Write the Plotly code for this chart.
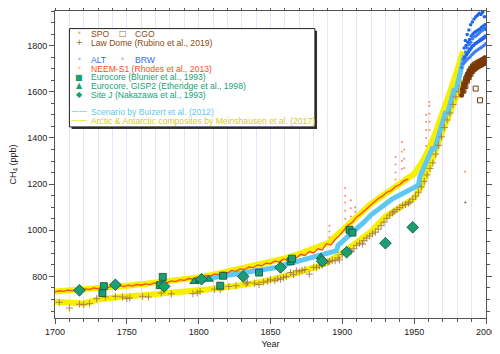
import plotly.graph_objects as go

# Meinshausen et al. (2017) composites
comp_years = [1700, 1710, 1720, 1730, 1740, 1750, 1760, 1770, 1780, 1790, 1800, 1810, 1820, 1830, 1840,
              1850, 1860, 1870, 1880, 1890, 1900, 1910, 1920, 1930, 1940, 1950, 1955, 1960, 1965, 1970,
              1975, 1980, 1984]
arctic_vals = [735, 739, 743, 748, 754, 760, 766, 772, 779, 787, 796, 808, 821, 835, 848,
               861, 878, 898, 922, 945, 1000, 1059, 1115, 1158, 1203, 1245, 1290, 1347, 1425, 1506,
               1600, 1693, 1775]
antarctic_vals = [690, 685, 683, 700, 710, 714, 718, 722, 727, 732, 740, 746, 753, 762, 772,
                  785, 800, 818, 838, 862, 901, 944, 994, 1059, 1102, 1139, 1190, 1261, 1345, 1434,
                  1515, 1592, 1650]

# Buizert et al. (2012) scenario
buizert_years = [1805, 1810, 1815, 1820, 1825, 1830, 1835, 1840, 1845, 1850, 1855, 1860, 1865, 1870, 1875,
                 1880, 1885, 1890, 1894, 1896, 1897, 1900, 1905, 1910, 1915, 1920, 1925, 1930, 1935, 1940,
                 1945, 1950, 1953, 1954, 1960, 1963, 1964, 1967, 1970, 1972, 1973, 1976, 1978, 1979, 1982,
                 1983, 1985]
buizert_vals = [790, 795, 800, 804, 808, 812, 816, 820, 826, 832, 840, 850, 858, 866, 875,
                884, 892, 900, 905, 912, 935, 951, 975, 1002, 1035, 1067, 1092, 1117, 1137, 1153,
                1168, 1182, 1195, 1232, 1318, 1360, 1345, 1410, 1477, 1515, 1500, 1570, 1615, 1600, 1680,
                1700, 1760]

# Law Dome (Rubino et al., 2019)
lawdome_years = [1703, 1710, 1717, 1720, 1724, 1729, 1735, 1742, 1747, 1750, 1752, 1761, 1765, 1774, 1781,
                 1796, 1799, 1801, 1811, 1815, 1821, 1826, 1833, 1834, 1839, 1842, 1845, 1848, 1850, 1853,
                 1855, 1857, 1859, 1861, 1864, 1866, 1868, 1870, 1872, 1874, 1877, 1880, 1882, 1884, 1886,
                 1888, 1890, 1891, 1893, 1895, 1897, 1898, 1900, 1903, 1905, 1906, 1908, 1910, 1912, 1914,
                 1915, 1917, 1919, 1921, 1923, 1925, 1927, 1929, 1931, 1933, 1935, 1936, 1938, 1940, 1942,
                 1944, 1946, 1947, 1949, 1951, 1953, 1955, 1957, 1959, 1961, 1963, 1965, 1967, 1969, 1971,
                 1973, 1975, 1977, 1979, 1981, 1983, 1985, 1987, 1989, 1991]
lawdome_vals = [688, 663, 680, 678, 682, 704, 711, 714, 711, 704, 707, 714, 711, 728, 725,
                725, 728, 735, 745, 742, 757, 760, 768, 775, 771, 765, 775, 780, 786, 782,
                790, 788, 795, 800, 817, 808, 825, 820, 826, 830, 810, 840, 838, 846, 850,
                856, 862, 865, 870, 868, 880, 872, 895, 905, 912, 908, 920, 935, 944, 940,
                955, 966, 975, 985, 992, 1005, 1020, 1035, 1052, 1066, 1075, 1082, 1090, 1098, 1108,
                1112, 1118, 1122, 1135, 1148, 1165, 1188, 1212, 1240, 1268, 1292, 1330, 1368, 1405, 1445,
                1478, 1508, 1545, 1578, 1600, 1625, 1645, 1665, 1688, 1700]

# NEEM-S1 (Rhodes et al., 2013)
neem_years = [1700, 1703, 1706, 1709, 1712, 1715, 1718, 1721, 1724, 1727, 1730, 1733, 1736, 1739, 1742,
              1745, 1748, 1751, 1754, 1757, 1760, 1763, 1766, 1769, 1772, 1775, 1778, 1781, 1784, 1787,
              1790, 1793, 1796, 1799, 1802, 1805, 1808, 1811, 1814, 1817, 1820, 1823, 1826, 1829, 1832,
              1835, 1838, 1841, 1844, 1847, 1850, 1853, 1856, 1859, 1862, 1865, 1868, 1871, 1874, 1877,
              1880, 1883, 1886, 1889, 1892, 1895, 1898, 1901, 1904, 1907, 1910, 1913, 1916, 1919, 1922,
              1925, 1928, 1931, 1934, 1937, 1940, 1943, 1946]
neem_vals = [733, 738, 735, 741, 738, 744, 740, 746, 743, 750, 747, 753, 750, 757, 754,
             760, 756, 762, 758, 765, 762, 768, 765, 772, 769, 776, 773, 781, 778, 786,
             783, 791, 789, 797, 795, 804, 801, 811, 808, 818, 815, 826, 822, 833, 830,
             841, 838, 850, 846, 858, 855, 867, 862, 876, 871, 885, 880, 896, 891, 908,
             902, 920, 915, 942, 936, 960, 978, 1000, 1022, 1035, 1058, 1072, 1088, 1108, 1120,
             1138, 1148, 1165, 1172, 1190, 1198, 1215, 1222]
neem_spike_years = [1891, 1891, 1891, 1902, 1902, 1902, 1902, 1902, 1906, 1906, 1906, 1909, 1909,
                    1937, 1937, 1937, 1937, 1941.5, 1941.5, 1941.5, 1941.5, 1943, 1943, 1943,
                    1958.3, 1958.3, 1958.3, 1958.3, 1958.3, 1960.6, 1960.6, 1960.6, 1960.6, 1960.6, 1985.4]
neem_spike_vals = [970, 995, 1020, 1050, 1085, 1120, 1150, 1183, 1060, 1095, 1130, 1080, 1100,
                   1220, 1250, 1285, 1318, 1265, 1300, 1340, 1383, 1270, 1310, 1350,
                   1365, 1400, 1435, 1470, 1500, 1435, 1470, 1505, 1540, 1556, 1254]

# SPO and CGO flask records
spo_years = [1983.0, 1983.5, 1984.0, 1984.5, 1985.0, 1985.5, 1986.0, 1986.5, 1987.0, 1987.5, 1988.0, 1988.5,
             1989.0, 1989.5, 1990.0, 1990.5, 1991.0, 1991.5, 1992.0, 1992.5, 1993.0, 1993.5, 1994.0, 1994.5,
             1995.0, 1995.5, 1996.0, 1996.5, 1997.0, 1997.5, 1998.0, 1998.5, 1999.0, 1999.5, 2000.0]
spo_vals = [1585, 1612, 1602, 1632, 1622, 1650, 1640, 1668, 1652, 1680, 1665, 1692,
            1676, 1700, 1688, 1708, 1694, 1714, 1698, 1716, 1702, 1720, 1706, 1724,
            1710, 1728, 1714, 1732, 1716, 1735, 1720, 1740, 1724, 1744, 1730]
spo_outlier_years = [1985.6]
spo_outlier_vals = [1120]
cgo_years = [1984.3, 1984.9, 1985.6, 1986.2, 1986.8, 1987.4, 1988.0, 1988.6, 1989.2, 1989.8, 1990.4, 1991.0,
             1991.6, 1992.2, 1992.8, 1993.4, 1994.0, 1994.6, 1995.2, 1995.8, 1996.4, 1997.0, 1997.6, 1998.2,
             1998.8, 1999.4, 2000.0, 1992.8, 1995.8]
cgo_vals = [1605, 1630, 1625, 1655, 1648, 1672, 1664, 1688, 1678, 1700, 1690, 1710,
            1700, 1718, 1706, 1722, 1712, 1726, 1716, 1730, 1720, 1734, 1724, 1738,
            1728, 1742, 1745, 1614, 1563]

# ALT and BRW flask records
alt_years = [1983.0, 1983.6, 1984.2, 1984.6, 1985.0, 1985.4, 1985.8, 1986.2, 1986.6, 1987.0, 1987.4, 1987.8,
             1988.2, 1988.6, 1989.0, 1989.4, 1989.8, 1990.2, 1990.6, 1991.0, 1991.4, 1991.8, 1992.2, 1992.6,
             1993.0, 1993.4, 1993.8, 1994.2, 1994.6, 1995.0, 1995.4, 1995.8, 1996.2, 1996.6, 1997.0, 1997.4,
             1997.8, 1998.2, 1998.6, 1999.0, 1999.4, 1999.8]
alt_vals = [1705, 1720, 1740, 1725, 1748, 1730, 1772, 1760, 1738, 1790, 1768, 1745, 1805, 1780,
            1752, 1815, 1790, 1760, 1830, 1800, 1768, 1838, 1808, 1775, 1842, 1812, 1780, 1848,
            1818, 1785, 1855, 1825, 1790, 1862, 1830, 1795, 1868, 1836, 1800, 1875, 1842, 1808]
brw_years = [1984.8, 1985.2, 1985.6, 1986.1, 1986.5, 1986.9, 1987.3, 1987.7, 1988.1, 1988.5, 1988.9, 1989.3,
             1989.7, 1990.1, 1990.5, 1990.9, 1991.3, 1991.7, 1992.1, 1992.5, 1992.9, 1993.3, 1993.7, 1994.1,
             1994.5, 1994.9, 1995.3, 1995.7, 1996.1, 1996.5, 1996.9, 1997.3, 1997.7, 1998.1, 1998.5, 1998.9,
             1999.3, 1999.7, 2000.0]
brw_vals = [1790, 1750, 1822, 1800, 1760, 1848, 1815, 1772, 1868, 1826, 1785, 1890, 1842, 1795,
            1902, 1850, 1800, 1915, 1858, 1808, 1925, 1862, 1812, 1932, 1868, 1818, 1940, 1872,
            1822, 1935, 1880, 1828, 1945, 1885, 1832, 1925, 1890, 1840, 1870]

# Greenland / Antarctic firn and ice records
eurocore_years = [1733, 1734, 1773, 1775, 1815, 1817, 1842, 1864, 1865, 1905, 1907]
eurocore_vals = [728, 758, 762, 798, 760, 803, 817, 866, 877, 1002, 990]
gisp2_years = [1797, 1801, 1807, 1885]
gisp2_vals = [778, 784, 788, 884]
sitej_years = [1717, 1742, 1776, 1802, 1831, 1857, 1886, 1903, 1930, 1949]
sitej_vals = [740, 764, 757, 788, 800, 839, 866, 905, 944, 1013]

BROWN = "#8a4a12"
BLUE = "#2a6fe8"
RED = "#ff4a1a"
GREEN = "#1a9f74"
LIGHTBLUE = "#5ec8f2"
YELLOW = "#f6ef00"
FONT = "Liberation Sans, Arial, sans-serif"

fig = go.Figure()

fig.add_trace(go.Scatter(x=comp_years, y=arctic_vals, mode="lines",
                         line=dict(color=YELLOW, width=6)))
fig.add_trace(go.Scatter(x=comp_years, y=antarctic_vals, mode="lines",
                         line=dict(color=YELLOW, width=6)))
fig.add_trace(go.Scatter(x=buizert_years, y=buizert_vals, mode="lines",
                         line=dict(color=LIGHTBLUE, width=5)))
fig.add_trace(go.Scatter(x=lawdome_years, y=lawdome_vals, mode="markers",
                         marker=dict(symbol="cross-thin", size=5, line=dict(color="#a8794a", width=0.9))))
fig.add_trace(go.Scatter(x=neem_spike_years, y=neem_spike_vals, mode="markers",
                         marker=dict(color="#ff8a66", size=2)))
fig.add_trace(go.Scatter(x=neem_years, y=neem_vals, mode="lines",
                         line=dict(color=RED, width=1.3)))
fig.add_trace(go.Scatter(x=spo_years, y=spo_vals, mode="markers",
                         marker=dict(color="#7a3a05", size=5)))
fig.add_trace(go.Scatter(x=spo_outlier_years, y=spo_outlier_vals, mode="markers",
                         marker=dict(color="#9a5a2a", size=2)))
fig.add_trace(go.Scatter(x=cgo_years, y=cgo_vals, mode="markers",
                         marker=dict(symbol="square-open", color="#7a3a05", size=5, line=dict(width=1))))
fig.add_trace(go.Scatter(x=alt_years, y=alt_vals, mode="markers",
                         marker=dict(color="#3b7ff0", size=3.5)))
fig.add_trace(go.Scatter(x=brw_years, y=brw_vals, mode="markers",
                         marker=dict(color="#1f66e6", size=3.5)))
green_marker = dict(color=GREEN, line=dict(color="#0b4f3a", width=0.8))
fig.add_trace(go.Scatter(x=eurocore_years, y=eurocore_vals, mode="markers",
                         marker=dict(symbol="square", size=7, **green_marker)))
fig.add_trace(go.Scatter(x=gisp2_years, y=gisp2_vals, mode="markers",
                         marker=dict(symbol="triangle-up", size=8, **green_marker)))
fig.add_trace(go.Scatter(x=sitej_years, y=sitej_vals, mode="markers",
                         marker=dict(symbol="diamond", size=9, **green_marker)))

# legend box drawn by hand (two entries per row in the original)
box = dict(x0=0.0334, x1=0.603, y0=0.6225, y1=0.9427)
shapes = [
    dict(type="rect", xref="paper", yref="paper", layer="above",
         x0=box["x0"] + 0.005, x1=box["x1"] + 0.005, y0=box["y0"] - 0.007, y1=box["y1"] - 0.007,
         fillcolor="#333333", line=dict(width=0)),
    dict(type="rect", xref="paper", yref="paper", layer="above", fillcolor="white",
         line=dict(color="#222222", width=1), **box),
]

legend_rows = [
    (0.9265, "•", "#d8b898", "SPO", BROWN),
    (0.8972, "+", "#9b6a3a", "Law Dome (Rubino et al., 2019)", BROWN),
    (0.8418, "•", "#a8c4f8", "ALT", BLUE),
    (0.8126, "•", "#ffc0a8", "NEEM-S1 (Rhodes et al., 2013)", RED),
    (0.7842, "■", GREEN, "Eurocore (Blunier et al., 1993)", GREEN),
    (0.7559, "▲", GREEN, "Eurocore, GISP2 (Etheridge et al., 1998)", GREEN),
    (0.7280, "◆", GREEN, "Site J (Nakazawa et al., 1993)", GREEN),
    (0.6713, "——", LIGHTBLUE, "Scenario by Buizert et al. (2012)", LIGHTBLUE),
    (0.6420, "——", "#e8e000", "Arctic & Antarctic composites by Meinshausen et al. (2017)", "#d6cc12"),
]
annotations = []
for yy, sym, sym_col, label, col in legend_rows:
    annotations.append(dict(x=0.0557, y=yy, xref="paper", yref="paper", text=sym, showarrow=False,
                            font=dict(color=sym_col, size=8, family="DejaVu Sans"),
                            xanchor="center", yanchor="middle"))
    annotations.append(dict(x=0.0789, y=yy, xref="paper", yref="paper", text=label, showarrow=False,
                            font=dict(color=col, size=8.6, family=FONT), xanchor="left", yanchor="middle"))
for yy, sym, sym_col, label, col in [(0.9265, "□", "#9b6a3a", "CGO", BROWN),
                                     (0.8418, "•", "#a8c4f8", "BRW", BLUE)]:
    annotations.append(dict(x=0.157, y=yy, xref="paper", yref="paper", text=sym, showarrow=False,
                            font=dict(color=sym_col, size=8, family="DejaVu Sans"),
                            xanchor="center", yanchor="middle"))
    annotations.append(dict(x=0.181, y=yy, xref="paper", yref="paper", text=label, showarrow=False,
                            font=dict(color=col, size=8.6, family=FONT), xanchor="left", yanchor="middle"))

axis_common = dict(showline=True, linecolor="#555555", linewidth=1, mirror="ticks",
                   ticks="outside", tickcolor="#555555", ticklen=5, zeroline=False, automargin=False,
                   tickfont=dict(size=9, color="#222222", family=FONT))

# page body has an 8px margin, so the figure is shrunk and shifted to land where the original plot sits
fig.update_layout(
    width=492, height=346,
    margin=dict(l=47, r=14, t=3, b=36),
    paper_bgcolor="white", plot_bgcolor="white",
    showlegend=False,
    font=dict(family=FONT, size=9, color="#222222"),
    shapes=shapes,
    annotations=annotations,
    xaxis=dict(range=[1700, 2000], dtick=50, showgrid=True, gridcolor="#e6e6f8", gridwidth=1,
               title=dict(text="Year", font=dict(size=9), standoff=4),
               minor=dict(dtick=10, ticks="outside", ticklen=3, tickcolor="#555555",
                          showgrid=True, gridcolor="#e6e6f8"),
               **axis_common),
    yaxis=dict(range=[620, 1950], dtick=200, tick0=0, showgrid=False,
               title=dict(text="CH<sub>4</sub> (ppb)", font=dict(size=9), standoff=10),
               minor=dict(dtick=50, ticks="outside", ticklen=3, tickcolor="#555555"),
               **axis_common),
)

fig.write_html("out.html")
